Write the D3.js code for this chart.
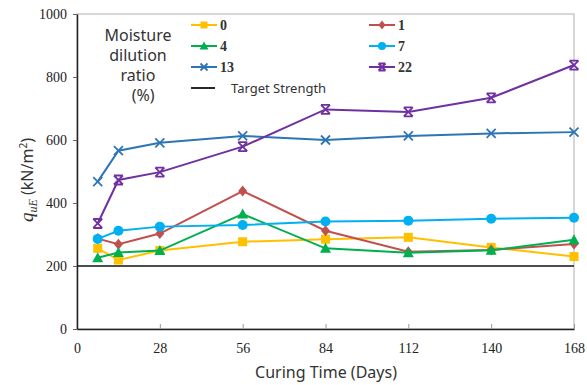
<!DOCTYPE html>
<html>
<head>
<meta charset="utf-8">
<script src="https://cdn.jsdelivr.net/npm/d3@7"></script>
<style>
  body { margin: 0; background: #fff; }
  svg { display: block; }
</style>
</head>
<body>
<div id="chart"></div>
<script>
// curing days
const days = [7, 14, 28, 56, 84, 112, 140, 168];

// strength per moisture dilution ratio (kN/m2)
const ratio0 = [256, 219, 249, 277, 285, 291, 259, 230];
const ratio1 = [287, 269, 303, 438, 312, 245, 251, 270];
const ratio4 = [226, 243, 249, 365, 256, 242, 250, 283];
const ratio7 = [286, 312, 325, 330, 341, 344, 350, 353];
const ratio13 = [468, 566, 591, 613, 600, 613, 621, 625];
const ratio22 = [335, 473, 498, 579, 697, 689, 734, 838];

const targetStrength = 200;

const xTicks = [0, 28, 56, 84, 112, 140, 168];
const yTicks = [0, 200, 400, 600, 800, 1000];

const series = [
    { name: "0", values: ratio0, color: "#FFC000", symbol: "square" },
    { name: "1", values: ratio1, color: "#C0504D", symbol: "diamond" },
    { name: "4", values: ratio4, color: "#00B050", symbol: "triangle" },
    { name: "7", values: ratio7, color: "#00B0F0", symbol: "circle" },
    { name: "13", values: ratio13, color: "#2E75B6", symbol: "x" },
    { name: "22", values: ratio22, color: "#7030A0", symbol: "star" }
];

const width = 587, height = 385;
const margin = { top: 14, right: 13, bottom: 56, left: 77 };

const svg = d3.select("#chart").append("svg")
    .attr("width", width)
    .attr("height", height);

const x = d3.scaleLinear().domain([0, 168]).range([margin.left, width - margin.right]);
const y = d3.scaleLinear().domain([0, 1000]).range([height - margin.bottom, margin.top]);

// frame: light top / right border
svg.append("rect")
    .attr("x", x(0)).attr("y", y(1000))
    .attr("width", x(168) - x(0)).attr("height", y(0) - y(1000))
    .attr("fill", "none").attr("stroke", "#bdbdbd").attr("stroke-width", 1.2);

// axes
const serif = "'Liberation Serif', 'DejaVu Serif', serif";

const xAxis = svg.append("g")
    .attr("transform", `translate(0,${y(0)})`)
    .call(d3.axisBottom(x).tickValues(xTicks).tickFormat(d3.format("d"))
        .tickSizeInner(-5).tickSizeOuter(0).tickPadding(14));
xAxis.select(".domain").attr("stroke", "#222").attr("stroke-width", 1.5);
xAxis.selectAll(".tick line").attr("stroke", "#999");
xAxis.selectAll("text").attr("font-family", serif).attr("font-size", 14).attr("fill", "#222");

const yAxis = svg.append("g")
    .attr("transform", `translate(${x(0)},0)`)
    .call(d3.axisLeft(y).tickValues(yTicks).tickFormat(d3.format("d"))
        .tickSizeInner(4).tickSizeOuter(0).tickPadding(6));
yAxis.select(".domain").attr("stroke", "#222").attr("stroke-width", 1.5);
yAxis.selectAll(".tick line").attr("stroke", "#666");
yAxis.selectAll("text").attr("font-family", serif).attr("font-size", 14).attr("fill", "#222");

// target strength line
svg.append("line")
    .attr("x1", x(0)).attr("x2", x(168))
    .attr("y1", y(targetStrength)).attr("y2", y(targetStrength))
    .attr("stroke", "#111").attr("stroke-width", 1.6);

function drawMarker(g, type, color, size) {
    const s = size;
    if (type === "square") {
        g.append("rect").attr("x", -s).attr("y", -s).attr("width", 2 * s).attr("height", 2 * s).attr("fill", color);
    } else if (type === "diamond") {
        g.append("path").attr("d", `M0,${-s - 1}L${s},0L0,${s + 1}L${-s},0Z`).attr("fill", color);
    } else if (type === "triangle") {
        g.append("path").attr("d", `M0,${-s - 1}L${s + 1},${s}L${-s - 1},${s}Z`).attr("fill", color);
    } else if (type === "circle") {
        g.append("circle").attr("r", s + 0.5).attr("fill", color);
    } else if (type === "x") {
        g.append("path").attr("d", `M${-s},${-s}L${s},${s}M${-s},${s}L${s},${-s}`)
            .attr("stroke", color).attr("stroke-width", 1.8).attr("fill", "none");
    } else if (type === "star") {
        g.append("path").attr("d", `M${-s},${-s}L${s},${s}M${-s},${s}L${s},${-s}M${-s},${-s}L${s},${-s}M${-s},${s}L${s},${s}`)
            .attr("stroke", color).attr("stroke-width", 1.8).attr("fill", "none");
    }
}

const line = d3.line()
    .x((d, i) => x(days[i]))
    .y(d => y(d));

series.forEach(s => {
    const g = svg.append("g");
    g.append("path")
        .datum(s.values)
        .attr("d", line)
        .attr("fill", "none")
        .attr("stroke", s.color)
        .attr("stroke-width", 2);
    s.values.forEach((v, i) => {
        const m = g.append("g").attr("transform", `translate(${x(days[i])},${y(v)})`);
        drawMarker(m, s.symbol, s.color, 4.5);
    });
});

// legend
const legendTitle = svg.append("text")
    .attr("x", 138).attr("y", 41)
    .attr("text-anchor", "middle")
    .attr("font-family", "'Noto Sans', sans-serif")
    .attr("font-size", 16)
    .attr("fill", "#333");
["Moisture", "dilution", "ratio", " (%)"].forEach((t, i) => {
    legendTitle.append("tspan").attr("x", i === 3 ? 141 : 138).attr("dy", i === 0 ? 0 : 20).text(t);
});

const legendCols = [191, 369];
series.forEach((s, i) => {
    const cx = legendCols[i % 2];
    const cy = 25 + Math.floor(i / 2) * 21;
    const g = svg.append("g");
    g.append("line").attr("x1", cx).attr("x2", cx + 26).attr("y1", cy).attr("y2", cy)
        .attr("stroke", s.color).attr("stroke-width", 2);
    const m = g.append("g").attr("transform", `translate(${cx + 13},${cy})`);
    drawMarker(m, s.symbol, s.color, 3.5);
    g.append("text").attr("x", cx + 29).attr("y", cy + 5)
        .attr("font-family", serif).attr("font-size", 14).attr("font-weight", "bold")
        .attr("fill", "#333").text(s.name);
});
svg.append("line").attr("x1", 191).attr("x2", 215).attr("y1", 88).attr("y2", 88)
    .attr("stroke", "#111").attr("stroke-width", 1.8);
svg.append("text").attr("x", 231).attr("y", 93)
    .attr("font-family", "'Noto Sans', sans-serif").attr("font-size", 13)
    .attr("fill", "#333").text("Target Strength");

// axis titles
svg.append("text")
    .attr("x", 326).attr("y", 378)
    .attr("text-anchor", "middle")
    .attr("font-family", "'Noto Sans', sans-serif")
    .attr("font-size", 16)
    .attr("fill", "#333")
    .text("Curing Time (Days)");

const yTitle = svg.append("text")
    .attr("transform", `translate(33,180) rotate(-90)`)
    .attr("text-anchor", "middle")
    .attr("font-family", "'Noto Sans', sans-serif")
    .attr("font-size", 16)
    .attr("fill", "#333");
yTitle.append("tspan").attr("font-style", "italic").attr("font-family", serif).attr("font-size", 19).text("q");
yTitle.append("tspan").attr("font-style", "italic").attr("font-family", serif).attr("font-size", 12).attr("dy", 4).text("uE");
yTitle.append("tspan").attr("dy", -4).text(" (kN/m");
yTitle.append("tspan").attr("font-size", 10).attr("dy", -6).text("2");
yTitle.append("tspan").attr("dy", 6).text(")");
</script>
</body>
</html>
